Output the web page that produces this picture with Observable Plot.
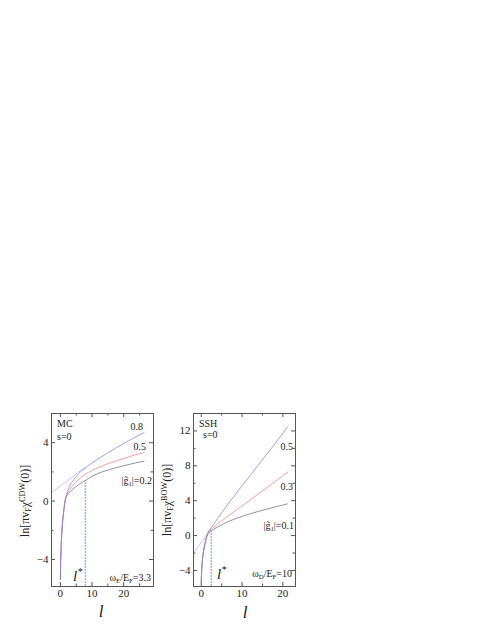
<!DOCTYPE html>
<html><head><meta charset="utf-8">
<script src="https://cdn.jsdelivr.net/npm/d3@7"></script>
<script src="https://cdn.jsdelivr.net/npm/@observablehq/plot@0.6"></script>
<style>
html,body{margin:0;padding:0;background:#fff}
body{width:491px;height:635px;position:relative;overflow:hidden;font-family:"Liberation Serif","Times New Roman",serif;color:#222}
.lbl{position:absolute;white-space:nowrap;font-size:10px;line-height:1}
.sub{font-size:0.68em;vertical-align:-0.3em;line-height:0}
.sup{font-size:0.68em;vertical-align:0.55em;line-height:0}
.ylab{position:absolute;white-space:nowrap;font-size:12px;line-height:1;transform:translate(-50%,-50%) rotate(-90deg)}
.xlab{position:absolute;white-space:nowrap;font-size:17px;font-style:italic;line-height:1;transform:translateX(-50%)}
.lstar{position:absolute;white-space:nowrap;font-size:15px;font-style:italic;line-height:1}
.panel{position:absolute}
</style></head><body>
<div id="left" class="panel" style="left:0px;top:400px"></div>
<div id="right" class="panel" style="left:165px;top:400px"></div>

<div class="lbl" style="left:57px;top:418.6px">MC</div>
<div class="lbl" style="left:57px;top:431.6px">s=0</div>
<div class="lbl" style="right:348px;top:421.6px">0.8</div>
<div class="lbl" style="right:345px;top:441.6px">0.5</div>
<div class="lbl" style="right:339px;top:475.6px">|g&#771;<span class="sub">1</span>|=0.2</div>
<div class="lbl" style="right:340px;top:573px">&omega;<span class="sub">E</span>/E<span class="sub">F</span>=3.3</div>
<div class="lstar" style="left:73px;top:569px">l<span class="sup">*</span></div>
<div class="ylab" style="left:25px;top:501px">ln[&pi;v<span class="sub">F</span>&chi;<span class="sup">CDW</span>(0)]</div>
<div class="xlab" style="left:101px;top:603px">l</div>

<div class="lbl" style="left:199px;top:418.6px">SSH</div>
<div class="lbl" style="left:203px;top:429.6px">s=0</div>
<div class="lbl" style="right:198px;top:441.6px">0.5</div>
<div class="lbl" style="right:198px;top:481.6px">0.3</div>
<div class="lbl" style="right:197px;top:520.6px">|g&#771;<span class="sub">1</span>|=0.1</div>
<div class="lbl" style="right:199px;top:569px">&omega;<span class="sub">D</span>/E<span class="sub">F</span>=10</div>
<div class="lstar" style="left:217px;top:567px">l<span class="sup">*</span></div>
<div class="ylab" style="left:167px;top:500px">ln[&pi;v<span class="sub">F</span>&chi;<span class="sup">BOW</span>(0)]</div>
<div class="xlab" style="left:245px;top:604px">l</div>

<script>
// ---------- data: left panel (MC, s=0, ω_E/E_F=3.3) ----------
const leftX   = [0,0.05,0.1,0.2,0.35,0.5,0.7,1.0,1.5,2.1,3,3.7,4.8,5.8,7,7.9,10,12.5,15,17.5,20,23,26.4];
const leftG02 = [-5.35,-4.7,-4.1,-3.4,-2.6,-2.0,-1.4,-0.8,-0.02,0.36,0.62,0.78,0.97,1.13,1.30,1.41,1.70,1.95,2.12,2.28,2.42,2.58,2.73];
const leftG05 = [-5.35,-4.7,-4.1,-3.4,-2.6,-2.0,-1.4,-0.8,0.02,0.48,0.80,1.01,1.28,1.49,1.70,1.84,2.10,2.35,2.56,2.75,2.92,3.13,3.31];
const leftG08 = [-5.35,-4.7,-4.1,-3.4,-2.6,-2.0,-1.4,-0.78,0.06,0.57,1.05,1.31,1.63,1.88,2.12,2.28,2.62,2.97,3.30,3.63,3.95,4.30,4.69];
const leftTangentX = [-2.8, 7.9];
const leftTangentY = [0.57, 2.33];
const leftLStar = 7.9, leftLStarTop = 1.41;

// ---------- data: right panel (SSH, s=0, ω_D/E_F=10) ----------
const rightX   = [0,0.05,0.1,0.2,0.35,0.5,0.7,1.0,1.4,2.0,2.5,3,4,5,6,7,8,10,12,14,16,18,20,21.1];
const rightG01 = [-5.3,-4.6,-4.0,-3.3,-2.5,-2.0,-1.4,-0.75,-0.05,0.35,0.55,0.70,0.98,1.23,1.47,1.68,1.87,2.20,2.50,2.78,3.02,3.27,3.50,3.63];
const rightG03 = [-5.3,-4.6,-4.0,-3.3,-2.5,-2.0,-1.4,-0.75,0.0,0.50,0.72,0.93,1.32,1.68,2.03,2.38,2.72,3.40,4.10,4.78,5.47,6.16,6.87,7.27];
const rightG05 = [-5.3,-4.6,-4.0,-3.3,-2.5,-2.0,-1.4,-0.73,0.05,0.65,0.95,1.30,1.95,2.60,3.25,3.90,4.50,5.72,6.92,8.10,9.30,10.50,11.75,12.45];
const rightTangentX = [-1.9, 2.45];
const rightTangentY = [-2.0, 0.8];
const rightLStar = 2.45, rightLStarTop = 0.5;

// ---------- ticks ----------
const leftXMajor = [0,10,20], leftXMinor = [5,15,25];
const leftYMajor = [-4,0,4],  leftYMinor = [-2,2];
const rightXMajor = [0,10,20], rightXMinor = [5,15];
const rightYMajor = [-4,0,4,8,12], rightYMinor = [-2,2,6,10];

const colBlack = "#707070", colRed = "#ff7e7e", colBlue = "#8080ff";
const frameCol = "#555";

function panel(o) {
  const innerW = o.width - o.ml - o.mr, innerH = o.height - o.mt - o.mb;
  const line = (ys, c) => Plot.line(o.xs.map((x, i) => ({x, y: ys[i]})),
    {x: "x", y: "y", stroke: c, strokeWidth: 0.85, strokeOpacity: 0.9, curve: "monotone-x"});
  const tan = o.tx.map((x, i) => ({x, y: o.ty[i]}));
  const tk = (len) => [
    Plot.tickX(len === 4 ? o.xMajor : o.xMinor, {x: d => d, insetTop: innerH - len, stroke: frameCol}),
    Plot.tickX(len === 4 ? o.xMajor : o.xMinor, {x: d => d, insetBottom: innerH - len, stroke: frameCol}),
    Plot.tickY(len === 4 ? o.yMajor : o.yMinor, {y: d => d, insetRight: innerW - len, stroke: frameCol}),
    Plot.tickY(len === 4 ? o.yMajor : o.yMinor, {y: d => d, insetLeft: innerW - len, stroke: frameCol})
  ];
  return Plot.plot({
    width: o.width, height: o.height,
    marginLeft: o.ml, marginRight: o.mr, marginTop: o.mt, marginBottom: o.mb,
    style: {fontFamily: "'Liberation Serif','Times New Roman',serif", fontSize: "11px", color: "#222", background: "transparent", overflow: "visible"},
    x: {domain: o.xDomain, ticks: o.xMajor, tickSize: 0, tickPadding: 3, label: null},
    y: {domain: o.yDomain, ticks: o.yMajor, tickSize: 0, tickPadding: 3, label: null},
    marks: [
      Plot.line(tan, {x: "x", y: "y", stroke: "#b9b9ff", strokeWidth: 0.9, strokeDasharray: "1.5,0.8"}),
      Plot.ruleX([o.lstar], {x: d => d, y1: o.yDomain[0], y2: o.lstarTop, stroke: "#aab2f4", strokeWidth: 1.6, strokeDasharray: "2,1"}),
      line(o.g1, colBlack),
      line(o.g2, colRed),
      line(o.g3, colBlue),
      ...tk(4), ...tk(2.5),
      Plot.frame({stroke: frameCol, strokeWidth: 1})
    ]
  });
}

document.getElementById("left").append(panel({
  xs: leftX, g1: leftG02, g2: leftG05, g3: leftG08,
  tx: leftTangentX, ty: leftTangentY, lstar: leftLStar, lstarTop: leftLStarTop,
  xDomain: [-2.8, 29.4], yDomain: [-5.85, 6],
  xMajor: leftXMajor, xMinor: leftXMinor, yMajor: leftYMajor, yMinor: leftYMinor,
  width: 165, height: 230, ml: 51, mr: 12, mt: 13, mb: 44
}));
document.getElementById("right").append(panel({
  xs: rightX, g1: rightG01, g2: rightG03, g3: rightG05,
  tx: rightTangentX, ty: rightTangentY, lstar: rightLStar, lstarTop: rightLStarTop,
  xDomain: [-1.9, 23.1], yDomain: [-5.84, 14],
  xMajor: rightXMajor, xMinor: rightXMinor, yMajor: rightYMajor, yMinor: rightYMinor,
  width: 150, height: 230, ml: 28, mr: 20, mt: 13, mb: 44
}));
</script>
</body></html>
